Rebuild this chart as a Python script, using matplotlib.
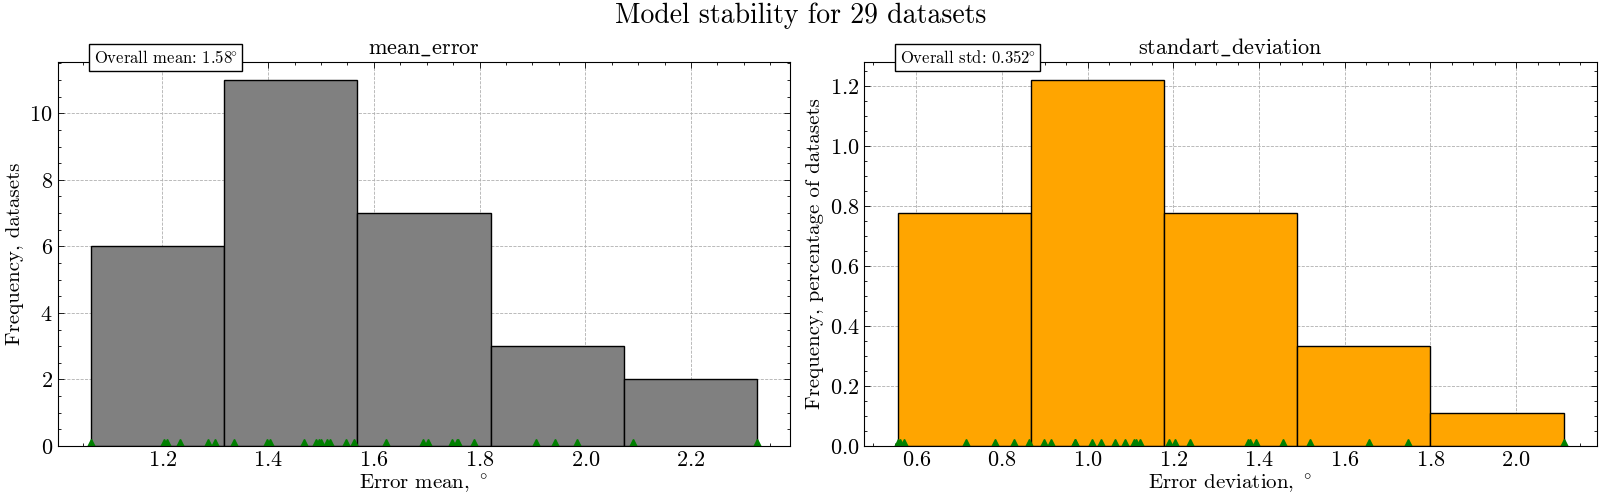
import matplotlib
matplotlib.use('Agg')
import matplotlib.pyplot as plt
import numpy as np

# per-dataset values (29 datasets)
mean_errors = [1.0646, 1.203, 1.208, 1.233, 1.287, 1.299,
               1.335, 1.397, 1.403, 1.467, 1.491, 1.496, 1.500, 1.512, 1.517, 1.548, 1.562,
               1.622, 1.693, 1.702, 1.748, 1.758, 1.760, 1.789,
               1.907, 1.943, 1.984,
               2.091, 2.3248]
std_errors = [0.5564, 0.562, 0.5704, 0.7151, 0.7844, 0.8271, 0.8630,
              0.8971, 0.9151, 0.9694, 0.970, 1.0100, 1.0317, 1.0644, 1.0861, 1.1071, 1.112, 1.1228,
              1.1888, 1.2044, 1.2394, 1.3732, 1.380, 1.3935, 1.4549,
              1.5195, 1.6572, 1.7466,
              2.1106]
overall_mean = "1.58"
overall_std = "0.352"
n_bins = 5

plt.rcParams.update({
    'font.family': 'serif',
    'font.serif': ['cmr10'],
    'mathtext.fontset': 'cm',
    'axes.formatter.use_mathtext': True,
    'axes.unicode_minus': False,
    'xtick.direction': 'in',
    'ytick.direction': 'in',
    'xtick.top': True,
    'ytick.right': True,
    'xtick.minor.visible': True,
    'ytick.minor.visible': True,
    'xtick.major.size': 4,
    'ytick.major.size': 4,
    'xtick.minor.size': 2,
    'ytick.minor.size': 2,
    'xtick.major.width': 0.6,
    'ytick.major.width': 0.6,
    'xtick.minor.width': 0.6,
    'ytick.minor.width': 0.6,
    'axes.linewidth': 0.8,
    'xtick.labelsize': 16,
    'ytick.labelsize': 16,
    'axes.labelsize': 15,
})

deg = r'$\hspace{-0.12}^{\circ}$'

fig = plt.figure(figsize=(16.01, 5.01), dpi=100)
ax1 = fig.add_axes([0.0360, 0.1098, 0.4576, 0.7671])
ax2 = fig.add_axes([0.5398, 0.1098, 0.4576, 0.7671])

panels = [
    (ax1, mean_errors, 'gray', False, r'$\mathrm{mean\_error}$',
     r'Error mean, $^\circ$', 'Frequency, datasets', 'Overall mean: ' + overall_mean + deg),
    (ax2, std_errors, 'orange', True, r'$\mathrm{standart\_deviation}$',
     r'Error deviation, $^\circ$', 'Frequency, percentage of datasets',
     'Overall std: ' + overall_std + deg),
]

for ax, vals, col, dens, title, xl, yl, note in panels:
    ax.hist(vals, bins=n_bins, density=dens, color=col, edgecolor='black', linewidth=1.0)
    ax.plot(vals, np.zeros(len(vals)), '^', color='green', markersize=10)
    ax.set_axisbelow(True)
    ax.grid(True, which='major', linestyle='--', color='#b0b0b0', linewidth=0.6)
    ax.set_title(title, fontsize=16, pad=6)
    ax.set_xlabel(xl, labelpad=2)
    ax.set_ylabel(yl, labelpad=4)
    ax.text(0.049, 1.012, note, transform=ax.transAxes, fontsize=12,
            ha='left', va='center',
            bbox=dict(boxstyle='square,pad=0.3', facecolor='white', edgecolor='black', linewidth=1.0))

fig.suptitle('Model stability for 29 datasets', fontsize=20, y=0.995)

plt.savefig('out.png', dpi=100)
plt.close()
